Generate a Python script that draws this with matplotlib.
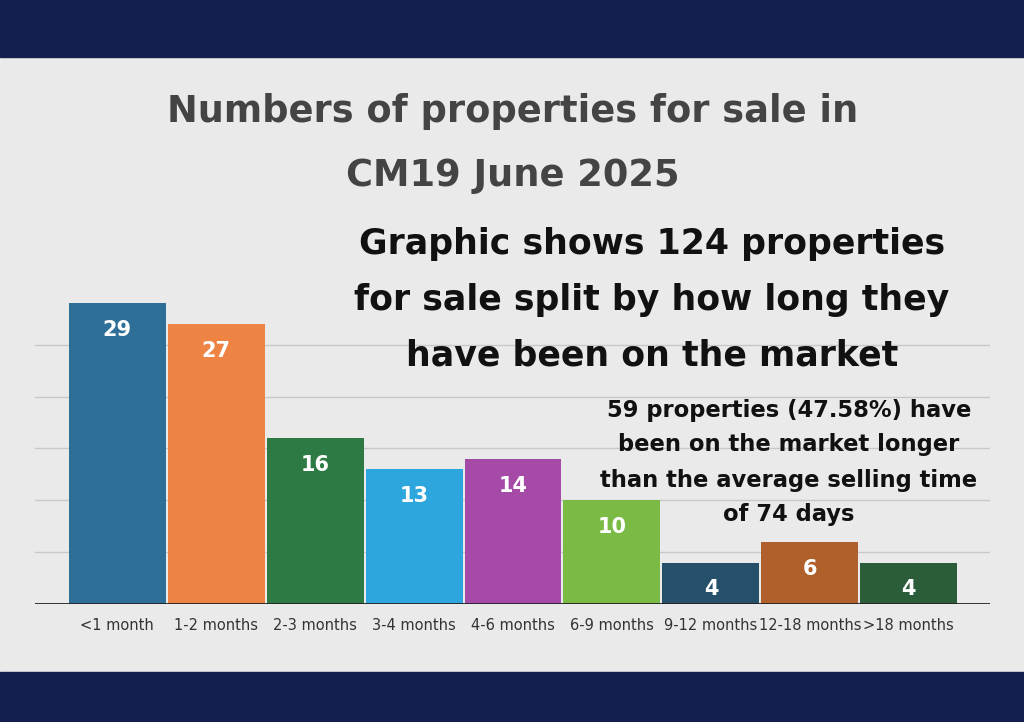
from matplotlib import pyplot as plt
import numpy as np

# Data
categories = ['<1 month', '1-2 months', '2-3 months', '3-4 months', '4-6 months',
              '6-9 months', '9-12 months', '12-18 months', '>18 months']
counts     = [29, 27, 16, 13, 14, 10, 4, 6, 4]
colors     = ['#2d6f97', '#ee8444', '#2d7a45', '#2ca6dc', '#a54aa6',
              '#7bbb45', '#264f69', '#b0612b', '#2b5d3a']

fig = plt.figure(figsize=(10.24, 7.22), dpi=100)
fig.patch.set_facecolor('#eaeaea')

# Navy bands
fig.add_artist(plt.Rectangle((0, 1 - 57/722), 1, 57/722, transform=fig.transFigure, color='#13204f'))
fig.add_artist(plt.Rectangle((0, 0), 1, 50/722, transform=fig.transFigure, color='#13204f'))

ax = fig.add_axes([35/1024, 118/722, 955/1024, 415/722])
ax.set_facecolor('none')
x = np.arange(len(categories))
ax.bar(x, counts, width=0.98, color=colors, zorder=3)
for xi, v in zip(x, counts):
    ax.text(xi, v - 2.6, str(v), ha='center', va='center', color='white',
            fontsize=15, fontweight='bold', zorder=4)
for g in range(5, 26, 5):
    ax.axhline(g, color='#c8c8c8', lw=1, zorder=1)
ax.axhline(0, color='#222222', lw=2, zorder=5)
ax.set_xlim(-0.83, 8.82)
ax.set_ylim(0, 40)
ax.set_xticks(x)
ax.set_xticklabels(categories, fontsize=10.5, color='#333333')
ax.tick_params(axis='x', length=0, pad=10)
ax.set_yticks([])
for s in ax.spines.values():
    s.set_visible(False)

fig.text(513/1024, 1 - 112/722, 'Numbers of properties for sale in', ha='center', va='center',
         fontsize=26.5, fontweight='bold', color='#444444')
fig.text(513/1024, 1 - 175/722, 'CM19 June 2025', ha='center', va='center',
         fontsize=26.5, fontweight='bold', color='#444444')
for i, line in enumerate(['Graphic shows 124 properties', 'for sale split by how long they',
                          'have been on the market']):
    fig.text(652/1024, 1 - (244 + i*56)/722, line, ha='center', va='center',
             fontsize=25, fontweight='bold', color='#111111')
for i, line in enumerate(['59 properties (47.58%) have', 'been on the market longer',
                          'than the average selling time', 'of 74 days']):
    fig.text(789/1024, 1 - (410 + i*35)/722, line, ha='center', va='center',
             fontsize=16.3, fontweight='bold', color='#111111')

fig.savefig('out.png', dpi=100)
